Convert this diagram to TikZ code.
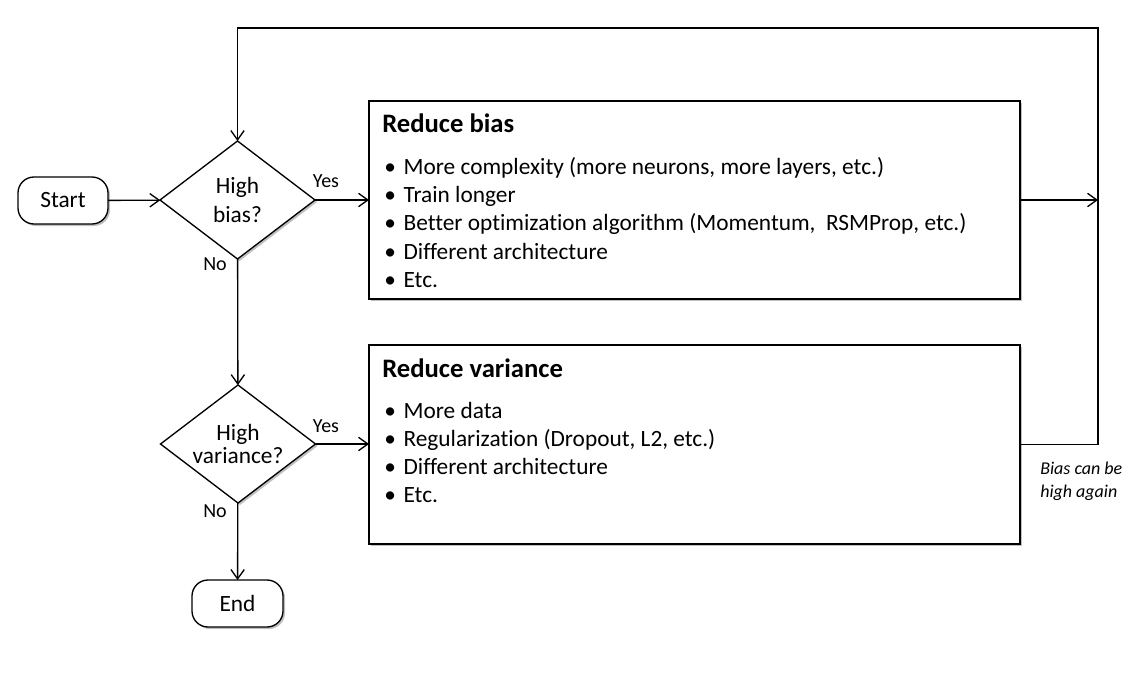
\documentclass[tikz,border=0pt]{standalone}
\usepackage{fontspec}
\setmainfont{Carlito}[Ligatures={NoCommon}]
\usetikzlibrary{arrows.meta,shapes.geometric,shadows}
\begin{document}
\begin{tikzpicture}[x=0.75pt,y=-0.75pt,
  conn/.style={line width=1pt,-{Straight Barb[length=7pt,width=10pt,line width=1pt]}},
  plain/.style={line width=1pt},
  shad/.style={drop shadow={shadow xshift=1.5pt,shadow yshift=-1.5pt,fill=black,opacity=0.25}},
  term/.style={draw,line width=1pt,rounded corners=12pt,fill=white,minimum width=67.5pt,minimum height=35.25pt,inner sep=0pt,outer sep=0pt,font=\fontsize{17.5}{20}\selectfont,shad},
  decision/.style={draw,diamond,aspect=1.31,line width=1pt,fill=white,minimum width=116.25pt,minimum height=88.5pt,inner sep=0pt,outer sep=0pt,align=center,shad},
  panel/.style={draw,line width=1.3pt,fill=white,minimum width=488.25pt,minimum height=148.5pt,inner sep=0pt,outer sep=0pt,shad},
  ttl/.style={anchor=base west,inner sep=0pt,font=\fontsize{20}{24}\selectfont\bfseries},
  itm/.style={anchor=base west,inner sep=0pt,font=\fontsize{17.5}{20}\selectfont},
  lbl/.style={inner sep=0pt,font=\fontsize{15}{17}\selectfont},
  note/.style={inner sep=0pt,align=left,font=\fontsize{13.5}{17.5}\selectfont\itshape},
]
\useasboundingbox (0,0) rectangle (1137,684);

% nodes
\node[term] (start) at (63,200.5) {Start};
\node[decision,font=\fontsize{17.5}{21.5}\selectfont] (d1) at (237.5,200) {High\\bias?};
\node[decision,font=\fontsize{17.5}{17}\selectfont] (d2) at (238,444) {High\\variance?};
\node[term,minimum width=68.25pt] (end) at (237.5,603.5) {End};

\node[panel] (box1) at (694.5,200) {};
\node[panel,minimum height=149.25pt] (box2) at (694.5,444.5) {};

% box 1 text
\node[ttl] (t1) at (382,133) {Reduce bias};
\foreach \i/\t in {0/{More complexity (more neurons, more layers, etc.)},
                   1/{Train longer},
                   2/{Better optimization algorithm (Momentum,\ \ RSMProp, etc.)},
                   3/{Different architecture},
                   4/{Etc.}}
  \node[itm] (bi\i) at (384,174.5+28.2*\i) {\makebox[14.5pt][l]{•}\t};

% box 2 text
\node[ttl] (t2) at (382,377) {Reduce variance};
\foreach \i/\t in {0/{More data},
                   1/{Regularization (Dropout, L2, etc.)},
                   2/{Different architecture},
                   3/{Etc.}}
  \node[itm] (vi\i) at (384,418.5+28*\i) {\makebox[14.5pt][l]{•}\t};

% labels
\node[lbl] (y1) at (326,181) {Yes};
\node[lbl] (n1) at (215,264) {No};
\node[lbl] (y2) at (326,426) {Yes};
\node[lbl] (n2) at (215,511) {No};
\node[note,anchor=west] (bias) at (1040,481.5) {Bias can be\\high again};

% helper coordinates
\coordinate (r1) at (1098,200);
\coordinate (r2) at (1098,444.5);
\coordinate (tr) at (1098,28);

% connectors
\draw[conn] (start) -- (d1);
\draw[conn] (d1) -- (box1);
\draw[conn] (d1) -- (d2);
\draw[conn] (d2) -- (box2.west |- d2.east);
\draw[conn] (d2) -- (end);
\draw[conn] (box1.east |- r1) -- (r1);
\draw[conn] (box2.east |- r2) -- (r2) -- (tr) -| (d1.north);
\end{tikzpicture}
\end{document}
